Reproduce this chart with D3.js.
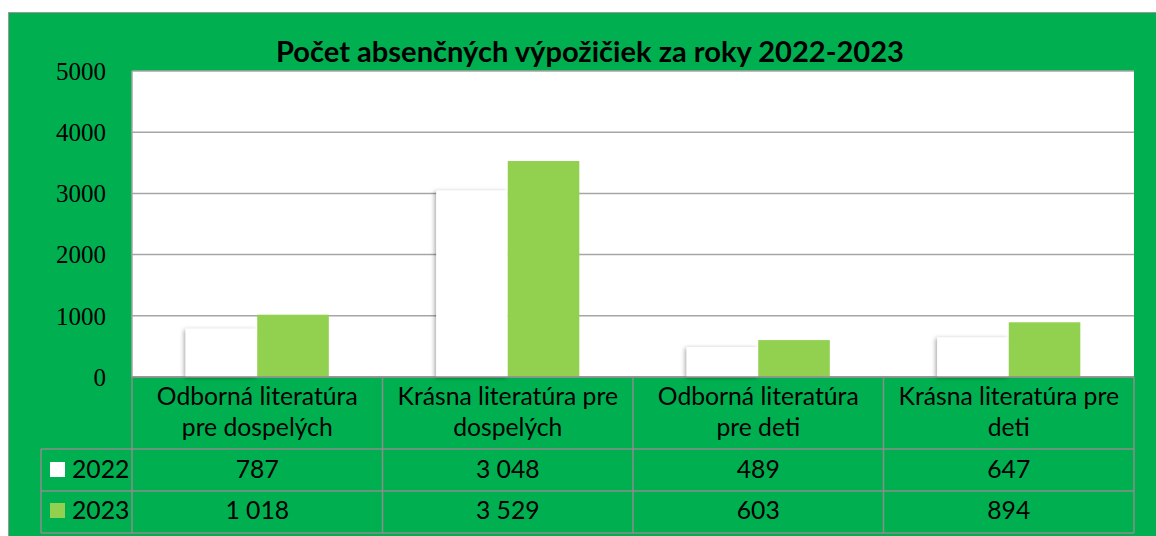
<!DOCTYPE html>
<html>
<head>
<meta charset="utf-8">
<script src="https://cdn.jsdelivr.net/npm/d3@7"></script>
<style>
  body { margin: 0; background: #fff; }
  svg { display: block; }
</style>
</head>
<body>
<svg id="chart"></svg>
<script>
// data
const categories = [
  ["Odborná literatúra", "pre dospelých"],
  ["Krásna literatúra pre", "dospelých"],
  ["Odborná literatúra", "pre deti"],
  ["Krásna literatúra pre", "deti"]
];
const years = ["2022", "2023"];
const values2022 = [787, 3048, 489, 647];
const values2023 = [1018, 3529, 603, 894];
const yTicks = [0, 1000, 2000, 3000, 4000, 5000];
const titleText = "Počet absenčných výpožičiek za roky 2022-2023";

const colors = { "2022": "#ffffff", "2023": "#92d050" };
const green = "#00b050";
const grid = "#a6a6a6";
const sans = "Lato, Carlito, 'Noto Sans', sans-serif";

const W = 1156, H = 536;
const svg = d3.select("#chart").attr("width", W).attr("height", H);

const plot = { left: 132, right: 1134, top: 71, bottom: 377 };
const rowH = [377, 449, 491, 533];
const legendLeft = 41;

// shadow for the bars
const defs = svg.append("defs");
defs.append("filter").attr("id", "shadow")
  .attr("x", "-20%").attr("y", "-20%").attr("width", "140%").attr("height", "140%")
  .append("feDropShadow")
  .attr("dx", -1.5).attr("dy", 1).attr("stdDeviation", 2)
  .attr("flood-color", "#000").attr("flood-opacity", 0.35);

// background
svg.append("rect")
  .attr("x", 8.5).attr("y", 12.5).attr("width", W).attr("height", H)
  .attr("fill", green).attr("stroke", "#9a9a9a").attr("stroke-width", 1);

// plot area
svg.append("rect")
  .attr("x", plot.left).attr("y", plot.top)
  .attr("width", plot.right - plot.left).attr("height", plot.bottom - plot.top)
  .attr("fill", "#fff");

const x = d3.scaleBand()
  .domain(d3.range(categories.length))
  .range([plot.left, plot.right])
  .paddingInner(0).paddingOuter(0);

const xs = d3.scaleBand()
  .domain(years)
  .range([0, x.bandwidth()])
  .paddingInner(0).paddingOuter(0.75);

const y = d3.scaleLinear().domain([0, 5000]).range([plot.bottom, plot.top]);

// gridlines
svg.append("g")
  .selectAll("line")
  .data(yTicks)
  .join("line")
  .attr("x1", plot.left).attr("x2", plot.right)
  .attr("y1", d => y(d)).attr("y2", d => y(d))
  .attr("stroke", grid).attr("stroke-width", 1.5);

// y axis labels
const yaxis = svg.append("g")
  .attr("transform", `translate(${plot.left - 23},0)`)
  .call(d3.axisLeft(y).tickValues(yTicks).tickSize(0).tickFormat(d3.format("d")));
yaxis.select(".domain").remove();
yaxis.selectAll("text")
  .attr("font-family", "'Liberation Serif', 'Times New Roman', serif")
  .attr("font-size", 25).attr("fill", "#000").attr("dy", "0.33em");

svg.append("line")
  .attr("x1", plot.left).attr("x2", plot.left)
  .attr("y1", plot.top).attr("y2", plot.bottom)
  .attr("stroke", grid).attr("stroke-width", 1.5);

// bars
const series = [
  { year: "2022", values: values2022 },
  { year: "2023", values: values2023 }
];
series.forEach(s => {
  svg.append("g")
    .selectAll("rect")
    .data(s.values)
    .join("rect")
    .attr("x", (d, i) => x(i) + xs(s.year))
    .attr("y", d => y(d))
    .attr("width", xs.bandwidth())
    .attr("height", d => y(0) - y(d))
    .attr("fill", colors[s.year])
    .attr("filter", s.year === "2022" ? "url(#shadow)" : null);
});

// data table
const table = svg.append("g");
const border = "#8c8c8c";

// horizontal lines
table.append("line")
  .attr("x1", plot.left).attr("x2", plot.right)
  .attr("y1", rowH[0]).attr("y2", rowH[0])
  .attr("stroke", border).attr("stroke-width", 1.5);
[rowH[1], rowH[2], rowH[3]].forEach(yy => {
  table.append("line")
    .attr("x1", legendLeft).attr("x2", plot.right)
    .attr("y1", yy).attr("y2", yy)
    .attr("stroke", border).attr("stroke-width", 1.5);
});
// vertical lines
d3.range(categories.length + 1).forEach(i => {
  const xx = i < categories.length ? x(i) : plot.right;
  table.append("line")
    .attr("x1", xx).attr("x2", xx)
    .attr("y1", rowH[0]).attr("y2", rowH[3])
    .attr("stroke", border).attr("stroke-width", 1.5);
});
table.append("line")
  .attr("x1", legendLeft).attr("x2", legendLeft)
  .attr("y1", rowH[1]).attr("y2", rowH[3])
  .attr("stroke", border).attr("stroke-width", 1.5);

// fit font size for the sans text
function fitSize(str, weight, target) {
  const t = svg.append("text").attr("font-family", sans)
    .attr("font-weight", weight).attr("font-size", 100).text(str);
  const w = t.node().getComputedTextLength();
  t.remove();
  return 100 * target / w;
}
const cellSize = fitSize("Odborná literatúra", "normal", 201);
const titleSize = fitSize(titleText, "bold", 628);

// header labels
categories.forEach((lines, i) => {
  const cx = x(i) + x.bandwidth() / 2;
  lines.forEach((ln, j) => {
    table.append("text")
      .attr("x", cx).attr("y", 405 + j * 31)
      .attr("text-anchor", "middle")
      .attr("font-family", sans).attr("font-size", cellSize)
      .attr("fill", "#000").text(ln);
  });
});

const fmt = d3.formatLocale({ decimal: ",", thousands: " ", grouping: [3], currency: ["", ""] }).format(",d");

series.forEach((s, r) => {
  const base = r === 0 ? 478 : 519;
  // legend key
  table.append("rect")
    .attr("x", 50).attr("y", base - 16).attr("width", 15).attr("height", 15)
    .attr("fill", colors[s.year]);
  table.append("text")
    .attr("x", 72).attr("y", base)
    .attr("font-family", sans).attr("font-size", cellSize)
    .attr("fill", "#000").text(s.year);
  s.values.forEach((v, i) => {
    table.append("text")
      .attr("x", x(i) + x.bandwidth() / 2).attr("y", base)
      .attr("text-anchor", "middle")
      .attr("font-family", sans).attr("font-size", cellSize)
      .attr("fill", "#000").text(fmt(v));
  });
});

// title
svg.append("text")
  .attr("x", 590).attr("y", 62)
  .attr("text-anchor", "middle")
  .attr("font-family", sans).attr("font-weight", "bold")
  .attr("font-size", titleSize).attr("fill", "#000")
  .text(titleText);
</script>
</body>
</html>
